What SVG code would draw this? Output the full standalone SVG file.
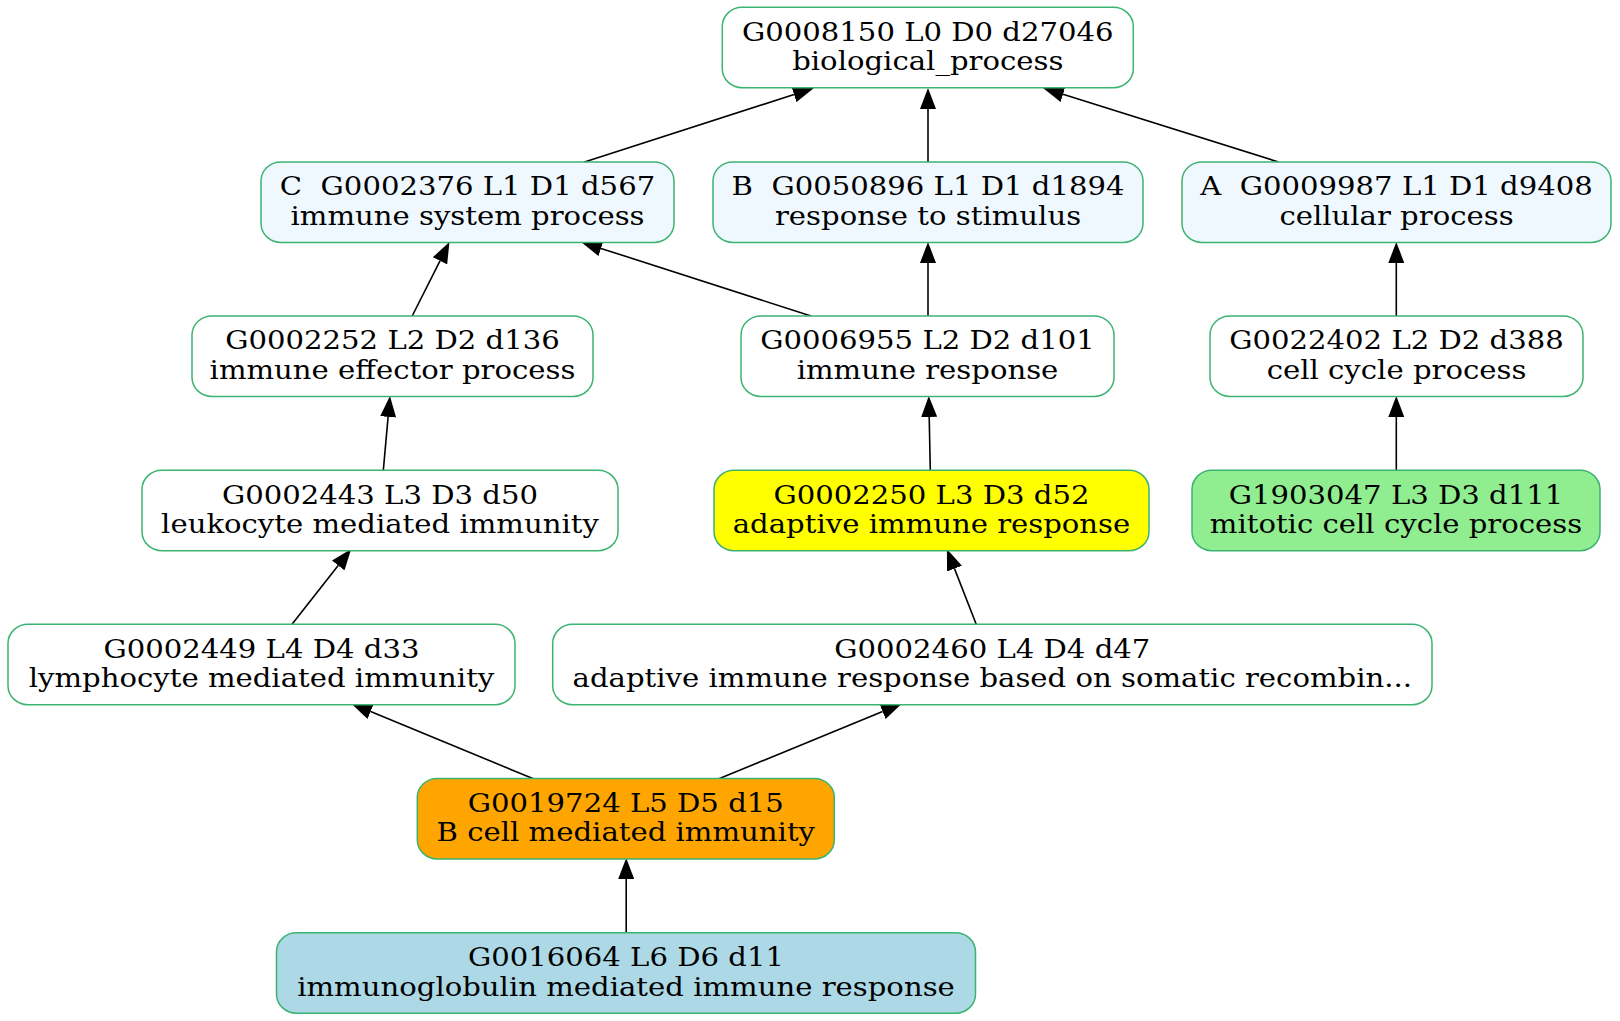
<svg xmlns="http://www.w3.org/2000/svg" width="1620" height="1021" viewBox="0 0 1620 1021">
<defs>
<style>
.n rect{stroke:#3cb371;stroke-width:1.5}
.n text{font-family:"DejaVu Serif","Liberation Serif",serif;font-size:26px;text-anchor:middle;fill:#000;white-space:pre}
.w{fill:#ffffff}.ab{fill:#f0f8ff}.y{fill:#ffff00}.g{fill:#90ee90}.o{fill:#ffa500}.b{fill:#add8e6}
#edges line{stroke:#000;stroke-width:1.6;marker-end:url(#ah)}
</style>
<marker id="ah" markerUnits="userSpaceOnUse" orient="auto" viewBox="0 -8 21 16" refX="0" refY="0" markerWidth="21" markerHeight="16">
<path d="M0,-8 L21,0 L0,8 z" fill="#000"/>
</marker>
</defs>
<rect width="1620" height="1021" fill="#fff"/>
<g id="edges">
<line x1="583.7" y1="162.3" x2="794" y2="94.5"/>
<line x1="928" y1="162" x2="928" y2="109"/>
<line x1="1278.5" y1="162" x2="1063" y2="94.3"/>
<line x1="412.2" y1="316" x2="440" y2="260.8"/>
<line x1="811" y1="316" x2="601" y2="248.4"/>
<line x1="928" y1="316" x2="928" y2="263"/>
<line x1="1396.3" y1="316" x2="1396.3" y2="263"/>
<line x1="383.3" y1="470.5" x2="388.1" y2="416.9"/>
<line x1="930.3" y1="470.5" x2="929.2" y2="417"/>
<line x1="1396.3" y1="470.5" x2="1396.3" y2="417"/>
<line x1="291.8" y1="624.5" x2="338.2" y2="565.5"/>
<line x1="976.3" y1="624.5" x2="954.5" y2="568.6"/>
<line x1="534" y1="779" x2="370.6" y2="711.5"/>
<line x1="718.3" y1="779" x2="882.6" y2="711.5"/>
<line x1="626.2" y1="933" x2="626.2" y2="879"/>
</g>
<g id="n_G0008150" class="n"><rect class="w" x="722.3" y="7.3" width="411" height="80.4" rx="20" ry="19"/>
<text transform="translate(927.8 40.5) scale(1.12 1)">G0008150 L0 D0 d27046</text>
<text transform="translate(927.8 70) scale(1.12 1)">biological_process</text></g>
<g id="n_G0002376" class="n"><rect class="ab" x="261" y="162" width="413" height="80.4" rx="20" ry="19"/>
<text transform="translate(467.5 195) scale(1.12 1)">C  G0002376 L1 D1 d567</text>
<text transform="translate(467.5 224.5) scale(1.12 1)">immune system process</text></g>
<g id="n_G0050896" class="n"><rect class="ab" x="713" y="162" width="430" height="80.4" rx="20" ry="19"/>
<text transform="translate(928 195) scale(1.12 1)">B  G0050896 L1 D1 d1894</text>
<text transform="translate(928 224.5) scale(1.12 1)">response to stimulus</text></g>
<g id="n_G0009987" class="n"><rect class="ab" x="1182" y="162" width="429" height="80.4" rx="20" ry="19"/>
<text transform="translate(1396.5 195) scale(1.12 1)">A  G0009987 L1 D1 d9408</text>
<text transform="translate(1396.5 224.5) scale(1.12 1)">cellular process</text></g>
<g id="n_G0002252" class="n"><rect class="w" x="192" y="316" width="401" height="80.4" rx="20" ry="19"/>
<text transform="translate(392.5 349.2) scale(1.12 1)">G0002252 L2 D2 d136</text>
<text transform="translate(392.5 378.7) scale(1.12 1)">immune effector process</text></g>
<g id="n_G0006955" class="n"><rect class="w" x="741" y="316" width="373" height="80.4" rx="20" ry="19"/>
<text transform="translate(927.5 349.2) scale(1.12 1)">G0006955 L2 D2 d101</text>
<text transform="translate(927.5 378.7) scale(1.12 1)">immune response</text></g>
<g id="n_G0022402" class="n"><rect class="w" x="1210" y="316" width="373" height="80.4" rx="20" ry="19"/>
<text transform="translate(1396.5 349.2) scale(1.12 1)">G0022402 L2 D2 d388</text>
<text transform="translate(1396.5 378.7) scale(1.12 1)">cell cycle process</text></g>
<g id="n_G0002443" class="n"><rect class="w" x="142" y="470.3" width="476" height="80.4" rx="20" ry="19"/>
<text transform="translate(380 503.5) scale(1.12 1)">G0002443 L3 D3 d50</text>
<text transform="translate(380 533) scale(1.12 1)">leukocyte mediated immunity</text></g>
<g id="n_G0002250" class="n"><rect class="y" x="714" y="470.3" width="435" height="80.4" rx="20" ry="19"/>
<text transform="translate(931.5 503.5) scale(1.12 1)">G0002250 L3 D3 d52</text>
<text transform="translate(931.5 533) scale(1.12 1)">adaptive immune response</text></g>
<g id="n_G1903047" class="n"><rect class="g" x="1192" y="470.3" width="408" height="80.4" rx="20" ry="19"/>
<text transform="translate(1396 503.5) scale(1.12 1)">G1903047 L3 D3 d111</text>
<text transform="translate(1396 533) scale(1.12 1)">mitotic cell cycle process</text></g>
<g id="n_G0002449" class="n"><rect class="w" x="8" y="624.3" width="507" height="80.4" rx="20" ry="19"/>
<text transform="translate(261.5 657.5) scale(1.12 1)">G0002449 L4 D4 d33</text>
<text transform="translate(261.5 687) scale(1.12 1)">lymphocyte mediated immunity</text></g>
<g id="n_G0002460" class="n"><rect class="w" x="552.7" y="624.3" width="879.3" height="80.4" rx="20" ry="19"/>
<text transform="translate(992.3 657.5) scale(1.12 1)">G0002460 L4 D4 d47</text>
<text transform="translate(992.3 687) scale(1.12 1)">adaptive immune response based on somatic recombin...</text></g>
<g id="n_G0019724" class="n"><rect class="o" x="417.3" y="778.5" width="417" height="80.4" rx="20" ry="19"/>
<text transform="translate(625.8 811.7) scale(1.12 1)">G0019724 L5 D5 d15</text>
<text transform="translate(625.8 841.2) scale(1.12 1)">B cell mediated immunity</text></g>
<g id="n_G0016064" class="n"><rect class="b" x="276.5" y="932.8" width="699" height="80.4" rx="20" ry="19"/>
<text transform="translate(626 966) scale(1.12 1)">G0016064 L6 D6 d11</text>
<text transform="translate(626 995.5) scale(1.12 1)">immunoglobulin mediated immune response</text></g>
</svg>
